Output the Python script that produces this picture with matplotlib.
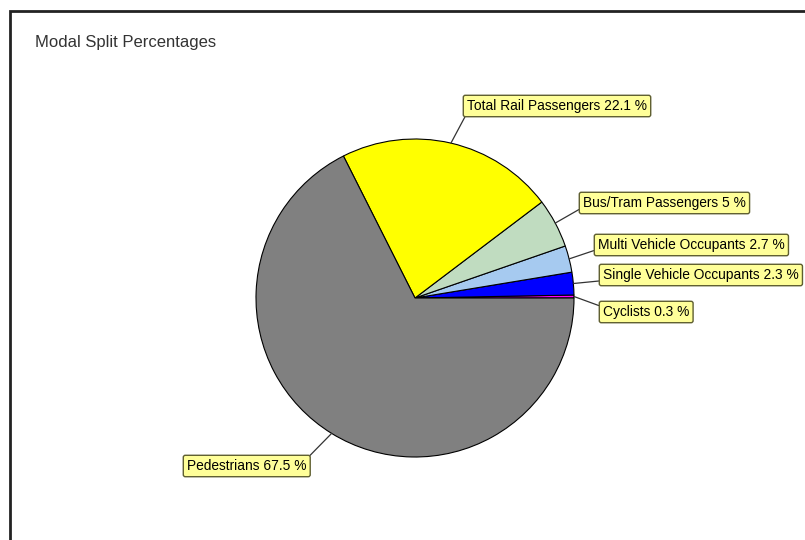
import numpy as np
from matplotlib import pyplot as plt

# data
modes = ['Cyclists', 'Single Vehicle Occupants', 'Multi Vehicle Occupants',
         'Bus/Tram Passengers', 'Total Rail Passengers', 'Pedestrians']
shares = [0.3, 2.3, 2.7, 5, 22.1, 67.5]
colors = ['#FF00FF', '#0000FF', '#A6CAF0', '#C0DCC0', '#FFFF00', '#808080']

# label box layout (image pixels: text left x, box centre y) and leader attach point
label_pos = [(603, 312), (603, 275), (598, 245), (583, 203), (467, 106), (187, 466)]
label_rel = [(0, 0.85), (0, 0.1), (0, 0.2), (0, 0.2), (0, 0), (1, 1)]

W, H = 805, 540
fig = plt.figure(figsize=(W / 100, H / 100), dpi=100)
ax = fig.add_axes([0, 0, 1, 1])

cx, cy, r = 415, H - 298, 159
wedges, _ = ax.pie(shares, colors=colors, startangle=0, center=(cx, cy), radius=r,
                   wedgeprops=dict(edgecolor='black', linewidth=0.8))

for w, name, val, (tx, ty), rel in zip(wedges, modes, shares, label_pos, label_rel):
    ang = np.deg2rad((w.theta1 + w.theta2) / 2)
    px, py = cx + r * np.cos(ang), cy + r * np.sin(ang)
    ax.annotate(f'{name} {val:g} %', xy=(px, py), xytext=(tx, H - ty),
                ha='left', va='center', fontsize=9.9, family='Liberation Sans', color='black',
                bbox=dict(boxstyle='round,pad=0.27,rounding_size=0.15', fc='#FFFF99',
                          ec='#5E5E30', lw=1),
                arrowprops=dict(arrowstyle='-', color='#333333', lw=0.9, relpos=rel,
                                shrinkA=0, shrinkB=0))

# title and frame
ax.text(35, H - 43, 'Modal Split Percentages', fontsize=12, family='Liberation Sans',
        color='#333333', ha='left', va='center')
ax.plot([10, 10, W], [0, H - 11, H - 11], color='#222222', lw=2, solid_joinstyle='miter')

ax.set_xlim(0, W)
ax.set_ylim(0, H)
ax.set_aspect('auto')
ax.axis('off')

plt.savefig('out.png', dpi=100)
